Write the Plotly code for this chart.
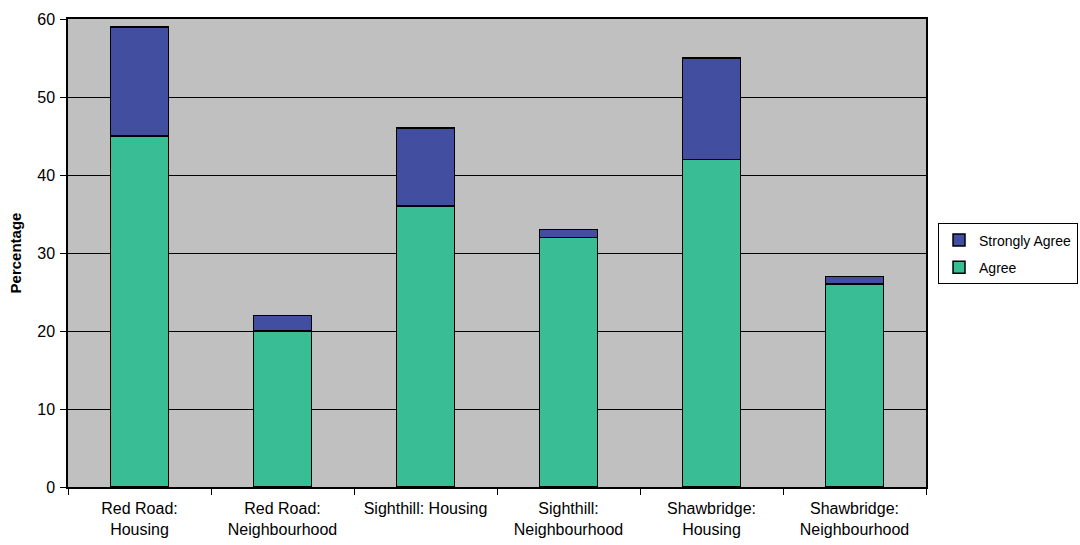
import plotly.graph_objects as go

categories = [
    "Red Road:<br>Housing",
    "Red Road:<br>Neighbourhood",
    "Sighthill: Housing",
    "Sighthill:<br>Neighbourhood",
    "Shawbridge:<br>Housing",
    "Shawbridge:<br>Neighbourhood",
]
agree = [45, 20, 36, 32, 42, 26]
strongly_agree = [14, 2, 10, 1, 13, 1]

fig = go.Figure()
fig.add_trace(go.Bar(
    x=categories, y=agree, name="Agree", legendgroup="a", legendrank=2,
    marker=dict(color="#38bd94", line=dict(color="black", width=1.5)),
))
fig.add_trace(go.Bar(
    x=categories, y=strongly_agree, name="Strongly Agree", legendgroup="s", legendrank=1,
    marker=dict(color="#424fa0", line=dict(color="black", width=1.5)),
))

font = "Liberation Sans, Arial, sans-serif"
fig.update_layout(
    barmode="stack",
    bargap=0.595,
    width=1080, height=545,
    margin=dict(l=68, r=154, t=19, b=58, autoexpand=False),
    paper_bgcolor="white",
    plot_bgcolor="#c0c0c0",
    font=dict(family=font, size=16, color="black"),
    showlegend=True,
    legend=dict(
        traceorder="grouped", tracegroupgap=6,
        x=1.014, y=0.498, xanchor="left", yanchor="middle",
        bgcolor="white", bordercolor="black", borderwidth=1,
        font=dict(size=14), itemwidth=30,
    ),
    xaxis=dict(
        showline=True, linecolor="black", linewidth=1.5, mirror=True,
        ticks="outside", tickson="boundaries", ticklen=6, tickcolor="black",
        tickfont=dict(size=16), showgrid=False, ticklabelstandoff=6,
    ),
    yaxis=dict(
        range=[0, 60], dtick=10,
        showline=True, linecolor="black", linewidth=1.5, mirror=True,
        ticks="outside", ticklen=6, tickcolor="black",
        showgrid=True, gridcolor="black", gridwidth=1,
        tickfont=dict(size=16), ticklabelstandoff=2,
        title=dict(text="<b>Percentage</b>", font=dict(size=15), standoff=12),
        zeroline=False,
    ),
)

fig.write_html("out.html")
